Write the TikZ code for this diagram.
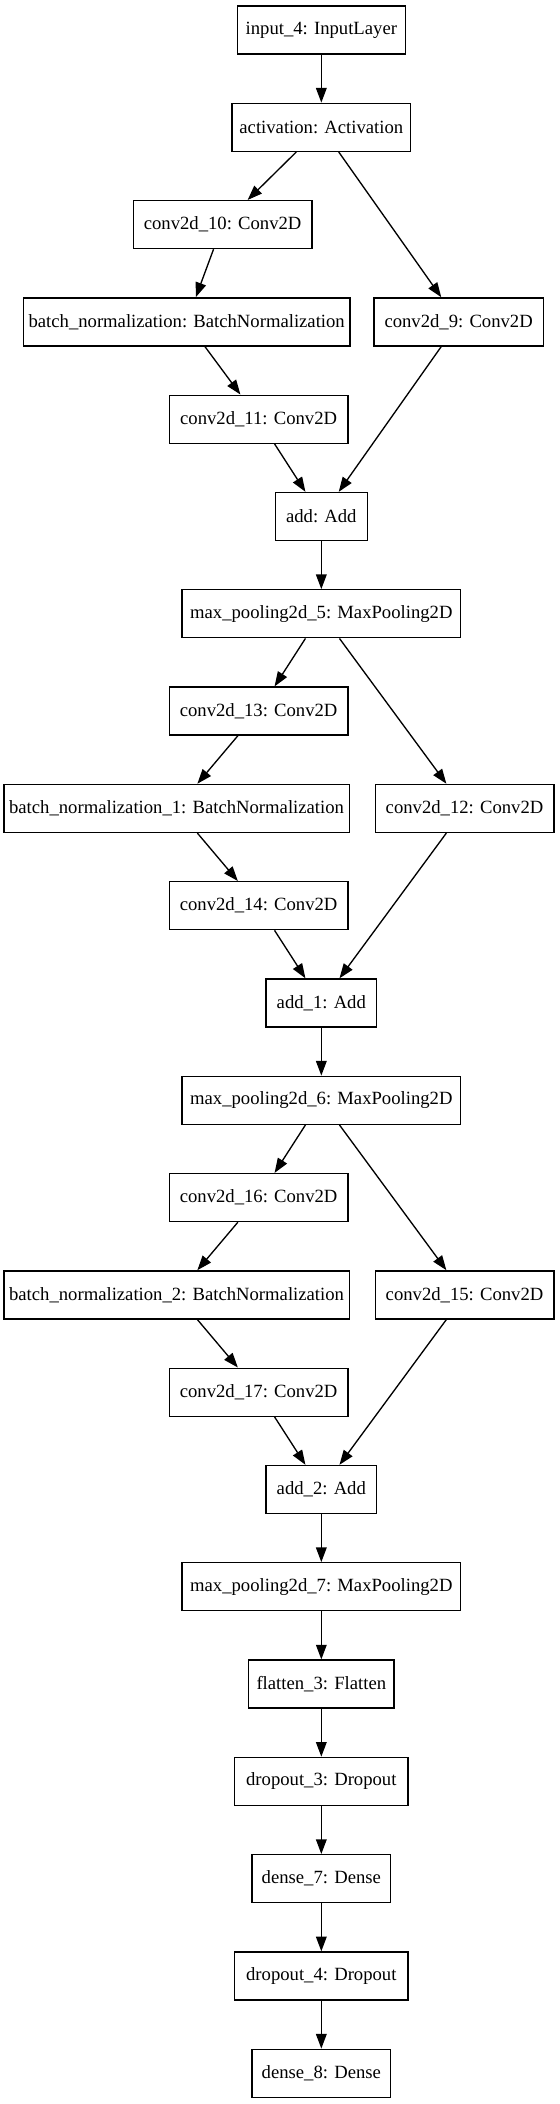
\documentclass[tikz,border=0pt]{standalone}
\usepackage{fontspec}
\setmainfont{Liberation Serif}
\usetikzlibrary{arrows.meta}

\begin{document}
\begin{tikzpicture}[x=1pt,y=-72.975pt,line width=1pt,>={Triangle[length=11pt,width=8pt]},
  layer/.style={draw,minimum height=36pt,inner xsep=2pt,font=\fontsize{14}{17}\selectfont}]
  \useasboundingbox (0,-0.3083) rectangle (420,21.316);
  % first block
  \node[layer,minimum width=126pt] (input4) at (241,0) {input\_4: InputLayer};
  \node[layer,minimum width=134pt] (act) at (241,1) {activation: Activation};
  \node[layer,minimum width=134pt] (conv10) at (167,2) {conv2d\_10: Conv2D};
  \node[layer,minimum width=245pt] (bn) at (140,3) {batch\_normalization: BatchNormalization};
  \node[layer,minimum width=127pt] (conv9) at (344,3) {conv2d\_9: Conv2D};
  \node[layer,minimum width=134pt] (conv11) at (194,4) {conv2d\_11: Conv2D};
  \node[layer,minimum width=69pt] (add) at (241,5) {add: Add};
  % second block
  \node[layer,minimum width=209pt] (mp5) at (241,6) {max\_pooling2d\_5: MaxPooling2D};
  \node[layer,minimum width=134pt] (conv13) at (194,7) {conv2d\_13: Conv2D};
  \node[layer,minimum width=259pt] (bn1) at (132.4,8) {batch\_normalization\_1: BatchNormalization};
  \node[layer,minimum width=134pt] (conv12) at (348.4,8) {conv2d\_12: Conv2D};
  \node[layer,minimum width=134pt] (conv14) at (194,9) {conv2d\_14: Conv2D};
  \node[layer,minimum width=83pt] (add1) at (241,10) {add\_1: Add};
  % third block
  \node[layer,minimum width=209pt] (mp6) at (241,11) {max\_pooling2d\_6: MaxPooling2D};
  \node[layer,minimum width=134pt] (conv16) at (194,12) {conv2d\_16: Conv2D};
  \node[layer,minimum width=259pt] (bn2) at (132.4,13) {batch\_normalization\_2: BatchNormalization};
  \node[layer,minimum width=134pt] (conv15) at (348.4,13) {conv2d\_15: Conv2D};
  \node[layer,minimum width=134pt] (conv17) at (194,14) {conv2d\_17: Conv2D};
  \node[layer,minimum width=83pt] (add2) at (241,15) {add\_2: Add};
  % head
  \node[layer,minimum width=209pt] (mp7) at (241,16) {max\_pooling2d\_7: MaxPooling2D};
  \node[layer,minimum width=109pt] (flat3) at (241,17) {flatten\_3: Flatten};
  \node[layer,minimum width=130pt] (drop3) at (241,18) {dropout\_3: Dropout};
  \node[layer,minimum width=104pt] (dense7) at (241,19) {dense\_7: Dense};
  \node[layer,minimum width=130pt] (drop4) at (241,20) {dropout\_4: Dropout};
  \node[layer,minimum width=104pt] (dense8) at (241,21) {dense\_8: Dense};

  \draw[->] (input4)--(act);
  \draw[->] (act)--(conv10);
  \draw[->] (act)--(conv9);
  \draw[->] (conv10)--(bn);
  \draw[->] (bn)--(conv11);
  \draw[->] (conv11)--(add);
  \draw[->] (conv9)--(add);
  \draw[->] (add)--(mp5);
  \draw[->] (mp5)--(conv13);
  \draw[->] (mp5)--(conv12);
  \draw[->] (conv13)--(bn1);
  \draw[->] (bn1)--(conv14);
  \draw[->] (conv14)--(add1);
  \draw[->] (conv12)--(add1);
  \draw[->] (add1)--(mp6);
  \draw[->] (mp6)--(conv16);
  \draw[->] (mp6)--(conv15);
  \draw[->] (conv16)--(bn2);
  \draw[->] (bn2)--(conv17);
  \draw[->] (conv17)--(add2);
  \draw[->] (conv15)--(add2);
  \draw[->] (add2)--(mp7);
  \draw[->] (mp7)--(flat3);
  \draw[->] (flat3)--(drop3);
  \draw[->] (drop3)--(dense7);
  \draw[->] (dense7)--(drop4);
  \draw[->] (drop4)--(dense8);
\end{tikzpicture}
\end{document}
